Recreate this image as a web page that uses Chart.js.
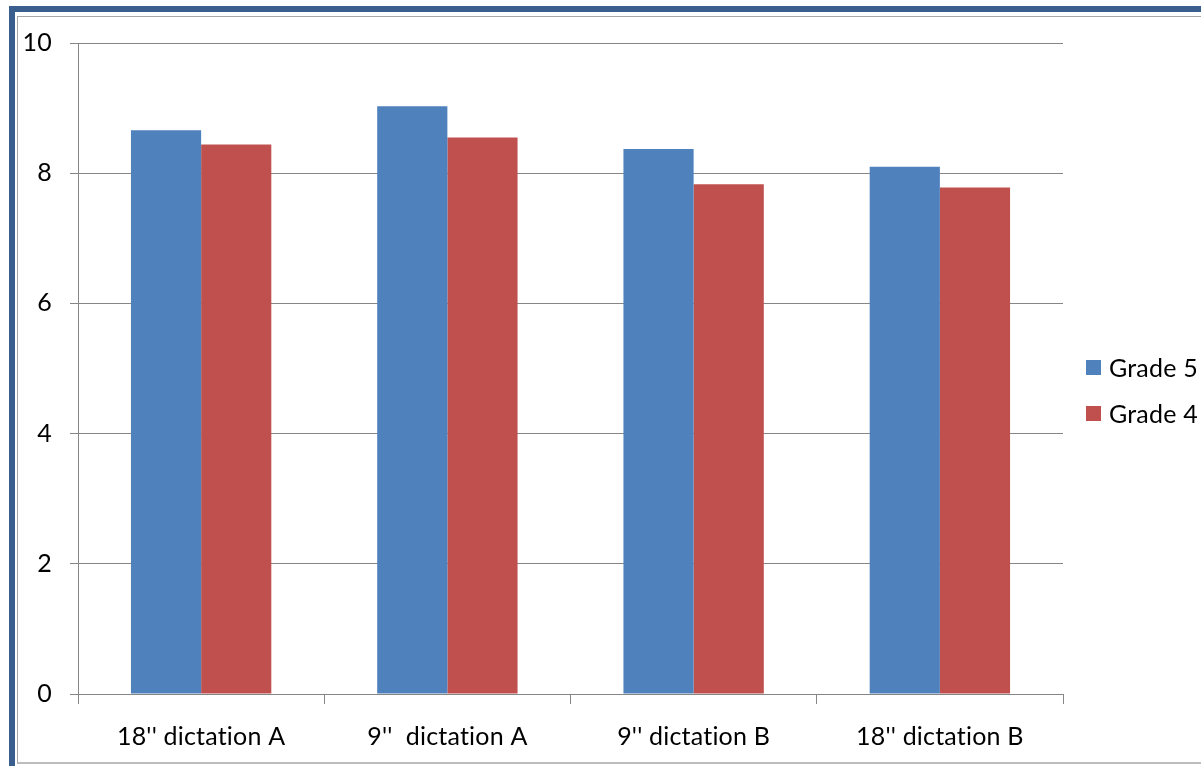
<!DOCTYPE html>
<html>
<head>
<meta charset="utf-8">
<script src="https://cdn.jsdelivr.net/npm/chart.js@4.4.1/dist/chart.umd.min.js"></script>
<style>
  html, body { margin: 0; padding: 0; background: #ffffff; width: 1201px; height: 766px; overflow: hidden; }
  #frame {
    position: absolute; left: 9px; top: 6px; width: 1300px; height: 900px;
    border-left: 6px solid #3a5f8e; border-top: 6px solid #3a5f8e;
  }
  #panel {
    position: absolute; left: 17px; top: 16px; width: 1300px; height: 745px;
    border-left: 1px solid #a6a6a6; border-top: 1px solid #a6a6a6; border-bottom: 2px solid #bdbdbd;
    background: #ffffff;
  }
  #wrap { position: absolute; left: 18px; top: 17px; width: 1183px; height: 745px; }
</style>
</head>
<body>
<div id="frame"></div>
<div id="panel"></div>
<div id="wrap"><canvas id="chart"></canvas></div>
<script>
// Scores per dictation task
const categories = ["18'' dictation A", "9''  dictation A", "9'' dictation B", "18'' dictation B"];
const grade5 = [8.66, 9.03, 8.37, 8.10];
const grade4 = [8.44, 8.55, 7.83, 7.78];
const yTicks = [0, 2, 4, 6, 8, 10];

const axisGray = '#868686';
const fontFamily = 'Lato, "Liberation Sans", sans-serif';
const font = { family: fontFamily, size: 25 };

// Legend drawn to the right of the plot: square swatch + series name
const sideLegend = {
  id: 'sideLegend',
  beforeDraw(chart) {
    chart.ctx.letterSpacing = '0.2px';
  },
  afterDraw(chart) {
    const ctx = chart.ctx;
    const sets = chart.data.datasets;
    const rowGap = 46, box = 15;
    const cy = chart.height / 2 + 1;
    const x0 = chart.chartArea.right + 23;
    ctx.save();
    ctx.font = `${font.size}px ${fontFamily}`;
    ctx.textBaseline = 'middle';
    ctx.textAlign = 'left';
    sets.forEach((ds, i) => {
      const y = cy + (i - (sets.length - 1) / 2) * rowGap;
      ctx.fillStyle = ds.backgroundColor;
      ctx.fillRect(x0, y - box / 2, box, box);
      ctx.fillStyle = '#000000';
      ctx.fillText(ds.label, x0 + box + 8, y + 1);
    });
    ctx.restore();
  }
};

new Chart(document.getElementById('chart'), {
  type: 'bar',
  data: {
    labels: categories,
    datasets: [
      { label: 'Grade 5', data: grade5, backgroundColor: '#4f81bd', borderWidth: 0 },
      { label: 'Grade 4', data: grade4, backgroundColor: '#c0504d', borderWidth: 0 }
    ]
  },
  plugins: [sideLegend],
  options: {
    responsive: true,
    maintainAspectRatio: false,
    animation: false,
    devicePixelRatio: 1,
    layout: { padding: { top: 26, right: 138, bottom: 0, left: 0 } },
    datasets: { bar: { categoryPercentage: 0.57, barPercentage: 1.0 } },
    plugins: {
      tooltip: { enabled: false },
      legend: { display: false }
    },
    scales: {
      x: {
        offset: true,
        afterFit: (axis) => { axis.height = 68; axis.paddingLeft = 0; axis.paddingRight = 0; },
        grid: { offset: true, drawOnChartArea: false, drawTicks: true, tickLength: 10, color: axisGray, lineWidth: 1 },
        border: { display: true, color: axisGray, width: 1 },
        ticks: { color: '#000000', font: font, padding: 18, maxRotation: 0, autoSkip: false }
      },
      y: {
        min: 0, max: 10,
        afterFit: (axis) => { axis.width = 60; axis.paddingTop = 0; axis.paddingBottom = 0; },
        afterBuildTicks: (axis) => { axis.ticks = yTicks.map(v => ({ value: v })); },
        grid: { color: axisGray, lineWidth: 1, tickLength: 8 },
        border: { display: true, color: axisGray, width: 1 },
        ticks: { color: '#000000', font: font, padding: 18 }
      }
    }
  }
});
</script>
</body>
</html>
